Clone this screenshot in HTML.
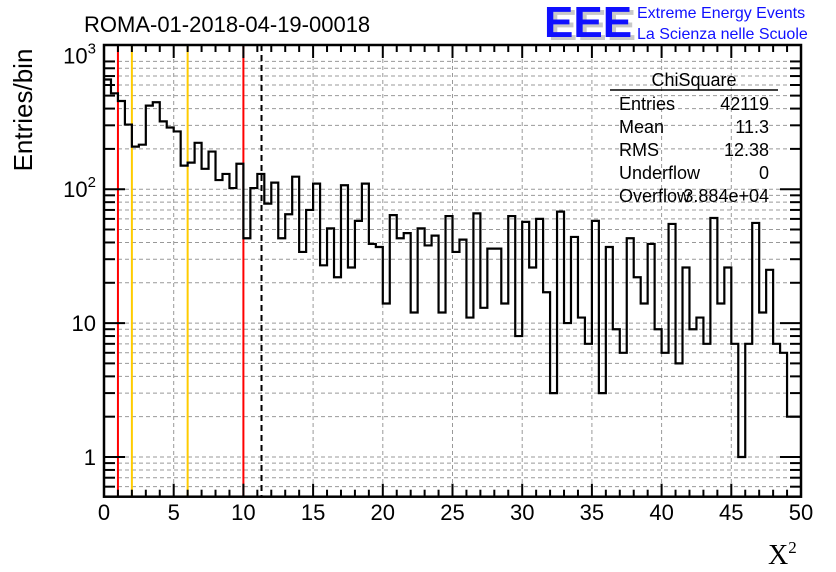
<!DOCTYPE html>
<html><head><meta charset="utf-8">
<style>
html,body{margin:0;padding:0;background:#fff;}
svg{display:block;font-family:"Liberation Sans",sans-serif;}
</style></head>
<body>
<svg id="chart" width="836" height="572" viewBox="0 0 836 572" xmlns="http://www.w3.org/2000/svg">
<rect x="0" y="0" width="836" height="572" fill="#fff"/>
<g id="grid"></g>
<g id="vlines"></g>
<g id="hist"></g>
<g id="axes"></g>
<text x="84" y="32" font-size="22">ROMA-01-2018-04-19-00018</text>
<g>
<text x="548" y="40" font-size="44" font-weight="bold" fill="#c8c8c8">EEE</text>
<text x="544" y="37" font-size="44" font-weight="bold" fill="#1010ff">EEE</text>
<text x="637" y="18" font-size="16" fill="#1010ff">Extreme Energy Events</text>
<text x="637" y="39" font-size="16" fill="#1010ff">La Scienza nelle Scuole</text>
</g>
<g>
<text x="694" y="86" font-size="18" text-anchor="middle">ChiSquare</text>
<line x1="610" y1="90" x2="778" y2="90" stroke="#000" stroke-width="1.5"/>
<text x="619" y="110" font-size="18">Entries</text>
<text x="769" y="110" font-size="18" text-anchor="end">42119</text>
<text x="619" y="133" font-size="18">Mean</text>
<text x="769" y="133" font-size="18" text-anchor="end">11.3</text>
<text x="619" y="156" font-size="18">RMS</text>
<text x="769" y="156" font-size="18" text-anchor="end">12.38</text>
<text x="619" y="179" font-size="18">Underflow</text>
<text x="769" y="179" font-size="18" text-anchor="end">0</text>
<text x="619" y="202" font-size="18">Overflow</text>
<text x="769" y="202" font-size="18" text-anchor="end">3.884e+04</text>
</g>
<text transform="translate(32,110) rotate(-90)" font-size="26" text-anchor="middle">Entries/bin</text>
<text x="768" y="564" font-size="28" font-family="Liberation Serif,serif">X<tspan font-size="17" dy="-11">2</tspan></text>
</svg>
<script>
const counts = [660,520,456,304,208,215,421,446,321,289,270,150,158,222,142,191,117,130,102,155,
43,102,130,78,112,43,65,124,34,70,110,27,51,22,107,26,58,110,39,37,
14,64,43,47,12,51,38,45,12,63,34,42,11,66,13,36,36,14,63,8,
57,26,60,17,3,68,10,44,11,7,58,3,37,9,6,43,22,14,39,9,
6,55,5,26,9,11,7,61,14,26,7,1,7,56,12,25,7,6,2,2];
const binWidth = 0.5;
const xMin = 0, xMax = 50;
const yMin = 0.505, yMax = 1194;
const xTicks = [0,5,10,15,20,25,30,35,40,45,50];
const yTickValues = [1,10,100,1000];
const yTickLabels = ["1","10","10²","10³"];
const redLines = [1,10];
const orangeLines = [2,6];
const meanValue = 11.3;

const L=104,R=801,T=45,B=496.7;
const ns="http://www.w3.org/2000/svg";
function X(v){return L+(v-xMin)/(xMax-xMin)*(R-L);}
function Y(v){return B-(Math.log10(v)-Math.log10(yMin))/(Math.log10(yMax)-Math.log10(yMin))*(B-T);}
function mk(tag,attrs,parent){const e=document.createElementNS(ns,tag);for(const k in attrs)e.setAttribute(k,attrs[k]);parent.appendChild(e);return e;}
const grid=document.getElementById('grid'),axes=document.getElementById('axes'),hist=document.getElementById('hist'),vl=document.getElementById('vlines');

// grid
xTicks.forEach(t=>{if(t>xMin&&t<xMax){const l=mk('line',{x1:X(t),x2:X(t),y1:T,y2:B,stroke:'#999','stroke-width':1,'stroke-dasharray':'4,3'},grid);

}});
for(let d=0;d<=3;d++){for(let m=1;m<=9;m++){const v=m*Math.pow(10,d-1);if(v<=yMin||v>=yMax)continue;
const l=mk('line',{x1:L,x2:R,y1:Y(v),y2:Y(v),stroke:'#999','stroke-width':1,'stroke-dasharray':'4,3'},grid);

}}

// reference lines
redLines.forEach(v=>{const l=mk('line',{x1:X(v),x2:X(v),y1:T,y2:B,stroke:'#ff0000','stroke-width':2},vl);

});
orangeLines.forEach(v=>{const l=mk('line',{x1:X(v),x2:X(v),y1:T,y2:B,stroke:'#ffcc00','stroke-width':2},vl);

});
{const l=mk('line',{x1:X(meanValue),x2:X(meanValue),y1:T,y2:B,stroke:'#000','stroke-width':2,'stroke-dasharray':'6,4'},vl);

}

// histogram
let d='';
counts.forEach((c,i)=>{const x0=X(i*binWidth),x1=X((i+1)*binWidth);const y=Y(Math.max(c,yMin));
d+=(i===0?'M'+x0+','+y:'L'+x0+','+y)+' L'+x1+','+y+' ';});
{const p=mk('path',{d:d,fill:'none',stroke:'#000','stroke-width':2.2},hist);

}

// frame
{const r=mk('rect',{x:L,y:T,width:R-L,height:B-T,fill:'none',stroke:'#000','stroke-width':2.5},axes);

}
// x ticks
for(let v=xMin;v<=xMax;v+=1){const major=v%5===0;const len=major?13:7;
mk('line',{x1:X(v),x2:X(v),y1:B,y2:B-len,stroke:'#000','stroke-width':2},axes);
mk('line',{x1:X(v),x2:X(v),y1:T,y2:T+len,stroke:'#000','stroke-width':2},axes);}
xTicks.forEach(t=>{const tx=mk('text',{x:X(t),y:520,'font-size':22,'text-anchor':'middle'},axes);tx.textContent=t;

});
// y ticks
for(let dd=0;dd<=3;dd++){for(let m=1;m<=9;m++){const v=m*Math.pow(10,dd-1);if(v<yMin||v>yMax)continue;const len=m===1?21:11;
mk('line',{x1:L,x2:L+len,y1:Y(v),y2:Y(v),stroke:'#000','stroke-width':2},axes);
mk('line',{x1:R,x2:R-len,y1:Y(v),y2:Y(v),stroke:'#000','stroke-width':2},axes);}}
yTickValues.forEach((v,i)=>{const lab=yTickLabels[i];const tx=mk('text',{x:96,y:Y(v)+8,'font-size':22,'text-anchor':'end'},axes);
if(lab.length>2){tx.textContent='10';const ts=mk('tspan',{'font-size':15,dy:-10},tx);ts.textContent=lab==='10²'?'2':'3';tx.setAttribute('x',96);}
else{tx.textContent=lab;}

});
</script>
</body></html>
